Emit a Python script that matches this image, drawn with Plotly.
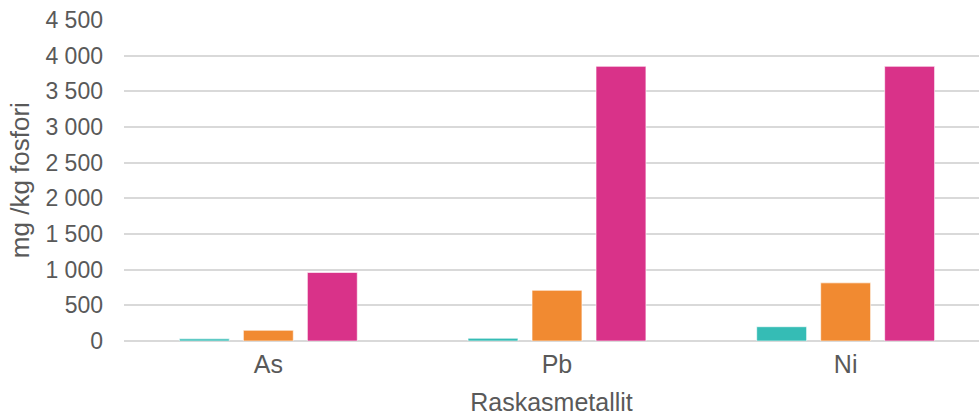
import plotly.graph_objects as go

# Heavy metal content per kg of phosphorus
metals = ["As", "Pb", "Ni"]
series_names = ["Sarja 1", "Sarja 2", "Sarja 3"]
series_a = [30, 38, 200]
series_b = [150, 710, 815]
series_c = [960, 3850, 3850]
colors = ["#35BCB5", "#F18A31", "#D93289"]

y_ticks = [0, 500, 1000, 1500, 2000, 2500, 3000, 3500, 4000, 4500]

FONT = "Liberation Sans, Arial, sans-serif"
GREY = "#595959"

fig = go.Figure()
for name, vals, col in zip(series_names, [series_a, series_b, series_c], colors):
    fig.add_trace(go.Bar(
        x=metals, y=vals, name=name,
        marker=dict(color=col, line=dict(color="rgba(255,255,255,0.6)", width=1)),
        showlegend=False,
    ))

fig.update_layout(
    width=979, height=418,
    margin=dict(l=124, r=0, t=20, b=77),
    paper_bgcolor="white", plot_bgcolor="white",
    barmode="group", bargap=0.335, bargroupgap=0.22,
    separators=", ",
    font=dict(family=FONT, color=GREY, size=23),
)
fig.update_xaxes(
    type="category", range=[-0.5, 2.462],
    showgrid=False, showline=False, zeroline=False,
    tickfont=dict(size=25, color=GREY),
    ticklabelstandoff=6,
    title=dict(text="Raskasmetallit", font=dict(size=25, color=GREY), standoff=16),
)
fig.update_yaxes(
    range=[0, 4500], tickvals=y_ticks, tickformat=",d",
    showgrid=True, gridcolor="#D9D9D9", gridwidth=2,
    zeroline=True, zerolinecolor="#D9D9D9", zerolinewidth=2,
    showline=False,
    tickfont=dict(size=23, color=GREY),
    ticklabelstandoff=20,
)

# Vertical y-axis title placed close to the left edge
fig.add_annotation(
    text="mg /kg fosfori", textangle=-90,
    xref="paper", yref="paper", x=-0.122, y=0.5,
    xanchor="center", yanchor="middle", showarrow=False,
    font=dict(size=26, color=GREY, family=FONT),
)

fig.write_html("out.html")
